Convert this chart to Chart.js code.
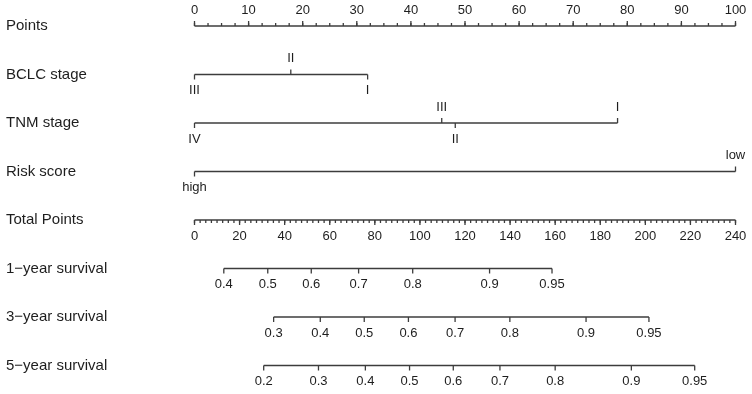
<!DOCTYPE html>
<html>
<head>
<meta charset="utf-8">
<script src="https://cdn.jsdelivr.net/npm/chart.js@4/dist/chart.umd.min.js"></script>
<style>
  html, body { margin: 0; padding: 0; background: #fff; }
</style>
</head>
<body>
<canvas id="nomogram" width="752" height="394"></canvas>
<script>
// Row titles, top to bottom
const rowNames = ["Points", "BCLC stage", "TNM stage", "Risk score", "Total Points",
                  "1\u2212year survival", "3\u2212year survival", "5\u2212year survival"];

// Points scale
const pointTicks = [0, 10, 20, 30, 40, 50, 60, 70, 80, 90, 100];

// Predictors (values in points)
const bclcLevels = ["III", "II", "I"];
const bclcPoints = [0, 17.8, 32];
const tnmLevels = ["IV", "III", "II", "I"];
const tnmPoints = [0, 45.7, 48.2, 78.2];
const riskLevels = ["high", "low"];
const riskPoints = [0, 100];

// Total points scale
const totalMax = 240;
const totalTicks = [0, 20, 40, 60, 80, 100, 120, 140, 160, 180, 200, 220, 240];

// Survival probabilities and where they sit on the total points scale
const surv1Labels = ["0.4", "0.5", "0.6", "0.7", "0.8", "0.9", "0.95"];
const surv1Total = [13.0, 32.5, 51.8, 72.8, 96.8, 130.9, 158.6];
const surv3Labels = ["0.3", "0.4", "0.5", "0.6", "0.7", "0.8", "0.9", "0.95"];
const surv3Total = [35.1, 55.8, 75.3, 94.9, 115.6, 139.9, 173.7, 201.6];
const surv5Labels = ["0.2", "0.3", "0.4", "0.5", "0.6", "0.7", "0.8", "0.9", "0.95"];
const surv5Total = [30.7, 55.0, 75.8, 95.4, 114.8, 135.5, 160.0, 193.8, 221.9];

// which side each level label goes (and its tick)
const bclcSide = ["below", "above", "below"];
const tnmSide = ["below", "above", "below", "above"];
const riskSide = ["below", "above"];

const lineColor = "#3c3c3c";
const textColor = "#1e1e1e";

const toPts = t => t * 100 / totalMax;

function minorTicks(max, step) {
    const out = [];
    for (let v = 0; v <= max + 1e-9; v += step) out.push(v);
    return out;
}

const rows = [
    { ticks: pointTicks.map(v => ({ v: v, label: String(v), side: "above" })),
      minor: minorTicks(100, 2.5), minorSide: "above" },
    { ticks: bclcLevels.map((l, i) => ({ v: bclcPoints[i], label: l, side: bclcSide[i] })) },
    { ticks: tnmLevels.map((l, i) => ({ v: tnmPoints[i], label: l, side: tnmSide[i] })) },
    { ticks: riskLevels.map((l, i) => ({ v: riskPoints[i], label: l, side: riskSide[i] })) },
    { ticks: totalTicks.map(v => ({ v: toPts(v), label: String(v), side: "below" })),
      minor: minorTicks(totalMax, 2.5).map(toPts), minorSide: "below" },
    { ticks: surv1Labels.map((l, i) => ({ v: toPts(surv1Total[i]), label: l, side: "below" })) },
    { ticks: surv3Labels.map((l, i) => ({ v: toPts(surv3Total[i]), label: l, side: "below" })) },
    { ticks: surv5Labels.map((l, i) => ({ v: toPts(surv5Total[i]), label: l, side: "below" })) }
];

// one line segment per row, from the first to the last tick
const datasets = rows.map((row, i) => {
    const vals = row.ticks.map(t => t.v);
    return {
        data: [{ x: Math.min(...vals), y: i }, { x: Math.max(...vals), y: i }],
        borderColor: lineColor,
        borderWidth: 1.3,
        pointRadius: 0,
        clip: false
    };
});

const nomogramAxes = {
    id: "nomogramAxes",
    afterDatasetsDraw(chart) {
        const c = chart.ctx;
        const xs = chart.scales.x, ys = chart.scales.y;
        c.save();
        c.strokeStyle = lineColor;
        c.lineWidth = 1.3;
        c.fillStyle = textColor;
        rows.forEach((row, i) => {
            const y = ys.getPixelForValue(i);
            // row title
            c.font = "15px 'Liberation Sans', Arial, sans-serif";
            c.textAlign = "left";
            c.textBaseline = "middle";
            c.fillText(rowNames[i], 6, y);
            // minor ticks
            if (row.minor) {
                const dir = row.minorSide === "above" ? -1 : 1;
                row.minor.forEach(v => {
                    const x = xs.getPixelForValue(v);
                    c.beginPath();
                    c.moveTo(x, y);
                    c.lineTo(x, y + dir * 3);
                    c.stroke();
                });
            }
            // major ticks with labels
            c.font = "13px 'Liberation Sans', Arial, sans-serif";
            c.textAlign = "center";
            row.ticks.forEach(t => {
                const x = xs.getPixelForValue(t.v);
                const dir = t.side === "above" ? -1 : 1;
                c.beginPath();
                c.moveTo(x, y);
                c.lineTo(x, y + dir * 5);
                c.stroke();
                c.fillText(t.label, x, y + dir * 16);
            });
        });
        c.restore();
    }
};

new Chart(document.getElementById("nomogram").getContext("2d"), {
    type: "line",
    data: { datasets: datasets },
    options: {
        responsive: false,
        animation: false,
        devicePixelRatio: 1,
        layout: { padding: { left: 194.5, right: 16.5, top: 26, bottom: 28.5 } },
        scales: {
            x: { type: "linear", min: 0, max: 100, display: false },
            y: { type: "linear", min: 0, max: 7, reverse: true, display: false }
        },
        plugins: { legend: { display: false }, tooltip: { enabled: false } }
    },
    plugins: [nomogramAxes]
});
</script>
</body>
</html>
